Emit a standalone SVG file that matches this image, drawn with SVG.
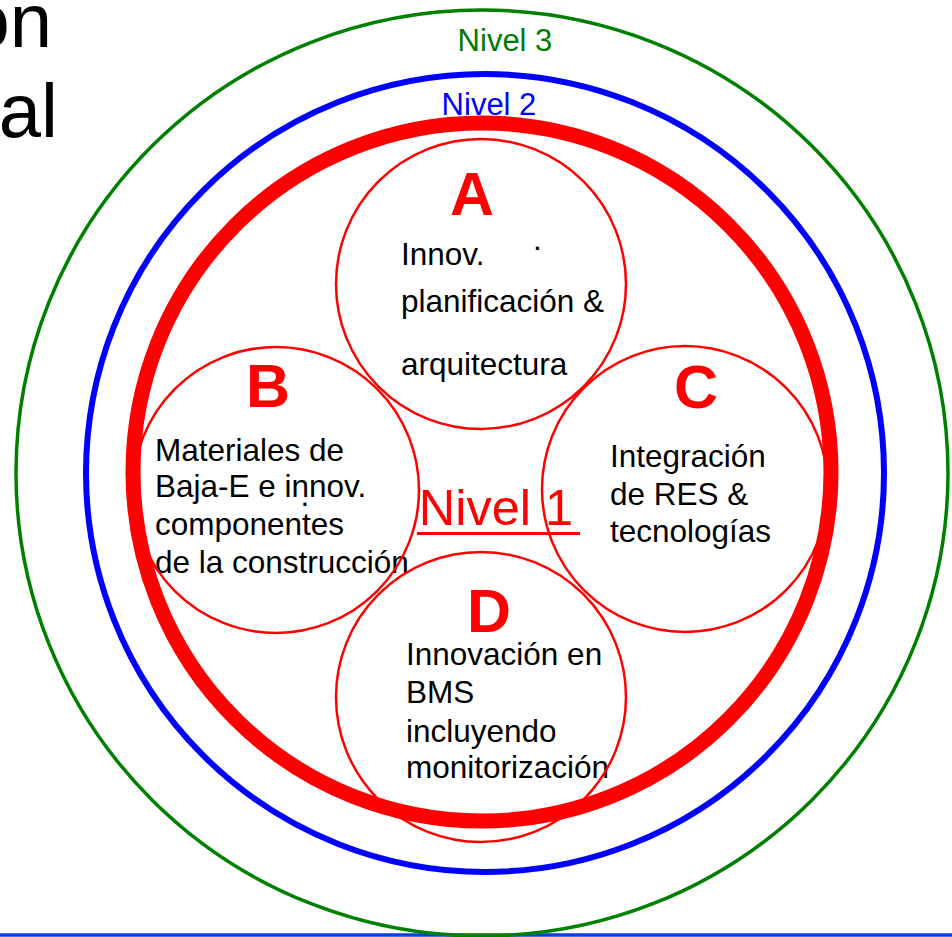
<svg xmlns="http://www.w3.org/2000/svg" width="952" height="937" viewBox="0 0 952 937">
<style>
text{font-family:"Liberation Sans",Arial,sans-serif}
.body{font-size:31.5px;fill:#000}
.letter{font-size:61px;font-weight:bold;fill:#ff0000;text-anchor:middle}
.small{fill:none;stroke:#ff0000;stroke-width:2.5}
</style>
<rect width="952" height="937" fill="#fff"/>
<g id="title">
<text x="52" y="47" font-size="76" text-anchor="end" fill="#000">on</text>
<text x="58" y="137" font-size="76" text-anchor="end" fill="#000">al</text>
</g>
<line x1="0" y1="935" x2="952" y2="935" stroke="#0a3fe0" stroke-width="3.5"/>
<g id="nivel3">
<ellipse cx="482" cy="473" rx="466" ry="463" fill="none" stroke="#008000" stroke-width="3.5"/>
<text x="505" y="51" font-size="31" text-anchor="middle" fill="#007a00">Nivel 3</text>
</g>
<g id="nivel2">
<circle cx="485" cy="473" r="399" fill="none" stroke="#0000ff" stroke-width="6"/>
<text x="489" y="115" font-size="31" text-anchor="middle" fill="#0000ff">Nivel 2</text>
</g>
<g id="nivel1">
<circle cx="482" cy="472" r="349" fill="none" stroke="#ff0000" stroke-width="15"/>
<text x="496" y="525" font-size="50.5" text-anchor="middle" fill="#ff0000">Nivel 1</text>
<line x1="417" y1="533.5" x2="580" y2="533.5" stroke="#ff0000" stroke-width="3"/>
</g>
<g id="nodeA">
<text class="letter" x="472" y="215">A</text>
<text class="body" x="401" y="265">Innov.</text>
<text class="body" x="533" y="250">.</text>
<text class="body" x="401" y="312">planificación &amp;</text>
<text class="body" x="401" y="375">arquitectura</text>
<circle class="small" cx="481" cy="284" r="145"/>
</g>
<g id="nodeB">
<text class="letter" x="268" y="407">B</text>
<text class="body" x="155" y="461">Materiales de</text>
<text class="body" x="155" y="497">Baja-E e innov.</text>
<text class="body" x="300.5" y="506">.</text>
<text class="body" x="155" y="535">componentes</text>
<text class="body" x="155" y="573">de la construcción</text>
<circle class="small" cx="276" cy="490" r="143"/>
</g>
<g id="nodeC">
<text class="letter" x="696" y="408">C</text>
<text class="body" x="610" y="467">Integración</text>
<text class="body" x="610" y="505">de RES &amp;</text>
<text class="body" x="610" y="542">tecnologías</text>
<circle class="small" cx="685" cy="489" r="143"/>
</g>
<g id="nodeD">
<text class="letter" x="489" y="632">D</text>
<text class="body" x="406" y="665">Innovación en</text>
<text class="body" x="406" y="703">BMS</text>
<text class="body" x="406" y="742">incluyendo</text>
<text class="body" x="406" y="778">monitorización</text>
<circle class="small" cx="481" cy="697" r="145"/>
</g>
<g id="connectors"/>
</svg>
